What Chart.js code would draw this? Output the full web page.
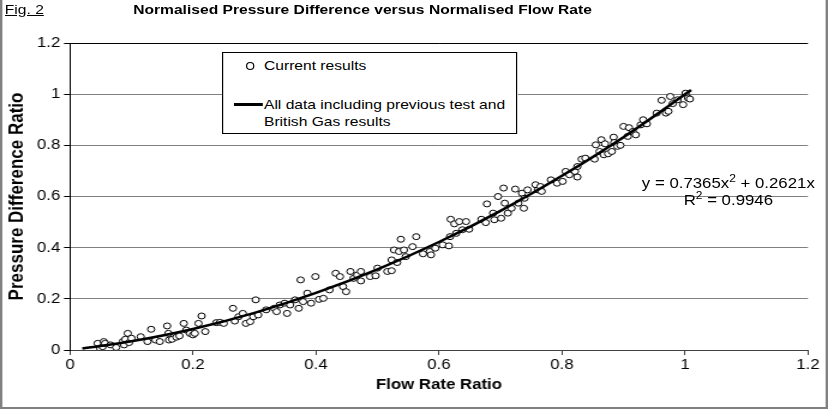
<!DOCTYPE html>
<html>
<head>
<meta charset="utf-8">
<script src="https://cdn.jsdelivr.net/npm/chart.js@4.4.1/dist/chart.umd.min.js"></script>
<style>
  body { margin: 0; background: #fff; font-family: Arial, "Liberation Sans", sans-serif; overflow: hidden; }
  /* the reference figure is stretched sideways, so the whole figure is laid out at 695px and widened by 1.2 */
  #wrap { position: relative; width: 695px; height: 410px; overflow: hidden; background: #fff;
          transform: scaleX(1.2); transform-origin: 0 0; }
  #chart { position: absolute; left: 0; top: 0; }
  #frame { position: absolute; left: 0; top: -4px; width: 690px; height: 413px; border-left: 2px solid #808080;
           border-right: 2px solid #808080; border-bottom: 2px solid #808080; box-sizing: border-box; pointer-events: none; }
  .txt { position: absolute; white-space: nowrap; color: #000; }
  #fig { left: 4px; top: 2px; font-size: 13px; text-decoration: underline; }
  #title { left: 111px; top: 2px; font-size: 13px; font-weight: bold; }
  #legend { position: absolute; left: 185px; top: 52px; width: 246px; height: 82px; border: 1px solid #000; background: #fff; box-sizing: border-box; }
  #legend .txt { font-size: 13px; line-height: 17px; }
  #mark { position: absolute; left: 19px; top: 9px; width: 5px; height: 6px; border: 1px solid #000; border-radius: 50%; }
  #swatch { position: absolute; left: 9px; top: 50px; width: 24px; height: 3px; background: #000; }
  #eqn { position: absolute; right: 16px; top: 175px; font-size: 14px; line-height: 17px; text-align: center; }
  #eqn sup { font-size: 10px; line-height: 0; }
</style>
</head>
<body>
<div id="wrap">
  <canvas id="chart" width="695" height="410"></canvas>
  <div class="txt" id="fig">Fig. 2</div>
  <div class="txt" id="title">Normalised Pressure Difference versus Normalised Flow Rate</div>
  <div id="legend">
    <div id="mark"></div>
    <div class="txt" style="left:34px; top:4px;">Current results</div>
    <div id="swatch"></div>
    <div class="txt" style="left:34px; top:43px;">All data including previous test and<br>British Gas results</div>
  </div>
  <div id="eqn">y = 0.7365x<sup>2</sup> + 0.2621x<br>R<sup>2</sup> = 0.9946</div>
  <div id="frame"></div>
</div>
<script>
// Current results
const flowRatio = [
  0.045, 0.049, 0.053, 0.055, 0.057, 0.066, 0.075, 0.086, 0.088, 0.090,
  0.094, 0.096, 0.100, 0.115, 0.126, 0.132, 0.139, 0.146, 0.158, 0.160,
  0.161, 0.166, 0.173, 0.178, 0.185, 0.189, 0.195, 0.200, 0.203, 0.209,
  0.214, 0.220, 0.238, 0.244, 0.250, 0.265, 0.268, 0.274, 0.281, 0.286,
  0.293, 0.298, 0.302, 0.306, 0.319, 0.332, 0.336, 0.341, 0.349, 0.353,
  0.358, 0.366, 0.372, 0.375, 0.379, 0.386, 0.392, 0.399, 0.405, 0.412,
  0.422, 0.432, 0.439, 0.444, 0.449, 0.456, 0.461, 0.467, 0.473, 0.473,
  0.488, 0.497, 0.500, 0.516, 0.523, 0.523, 0.527, 0.532, 0.535, 0.538,
  0.543, 0.546, 0.557, 0.563, 0.574, 0.585, 0.587, 0.594, 0.606, 0.616,
  0.618, 0.619, 0.625, 0.628, 0.633, 0.638, 0.644, 0.649, 0.669, 0.676,
  0.678, 0.688, 0.690, 0.696, 0.701, 0.705, 0.707, 0.712, 0.718, 0.724,
  0.729, 0.735, 0.738, 0.739, 0.744, 0.757, 0.761, 0.765, 0.767, 0.782,
  0.792, 0.801, 0.806, 0.812, 0.821, 0.825, 0.825, 0.832, 0.838, 0.853,
  0.855, 0.861, 0.864, 0.868, 0.870, 0.875, 0.881, 0.884, 0.885, 0.890,
  0.895, 0.900, 0.907, 0.909, 0.915, 0.920, 0.928, 0.932, 0.938, 0.954,
  0.962, 0.969, 0.973, 0.976, 0.980, 0.988, 0.997, 1.001, 1.005, 1.008
];
const pressureRatio = [
  0.026, 0.007, 0.013, 0.033, 0.026, 0.020, 0.010, 0.033, 0.020, 0.042,
  0.065, 0.029, 0.046, 0.052, 0.033, 0.081, 0.039, 0.033, 0.094, 0.065,
  0.039, 0.042, 0.050, 0.055, 0.104, 0.078, 0.065, 0.059, 0.065, 0.104,
  0.133, 0.072, 0.107, 0.108, 0.104, 0.163, 0.113, 0.130, 0.143, 0.104,
  0.111, 0.130, 0.196, 0.137, 0.157, 0.163, 0.150, 0.176, 0.183, 0.143,
  0.176, 0.196, 0.163, 0.274, 0.189, 0.222, 0.183, 0.287, 0.198, 0.202,
  0.235, 0.300, 0.287, 0.248, 0.228, 0.307, 0.280, 0.293, 0.307, 0.270,
  0.287, 0.290, 0.320, 0.307, 0.310, 0.352, 0.391, 0.342, 0.385, 0.433,
  0.391, 0.365, 0.404, 0.443, 0.376, 0.385, 0.372, 0.398, 0.411, 0.407,
  0.443, 0.511, 0.493, 0.456, 0.502, 0.470, 0.502, 0.472, 0.511, 0.498,
  0.571, 0.535, 0.509, 0.600, 0.515, 0.633, 0.574, 0.535, 0.554, 0.629,
  0.574, 0.613, 0.554, 0.593, 0.626, 0.646, 0.626, 0.639, 0.620, 0.665,
  0.652, 0.659, 0.698, 0.685, 0.698, 0.676, 0.717, 0.746, 0.750, 0.746,
  0.802, 0.776, 0.822, 0.763, 0.806, 0.767, 0.776, 0.832, 0.811, 0.796,
  0.800, 0.874, 0.835, 0.869, 0.854, 0.841, 0.880, 0.900, 0.884, 0.926,
  0.976, 0.926, 0.933, 0.991, 0.963, 0.978, 0.959, 1.004, 0.985, 0.981
];

// Fitted curve through all data
const fitFlow = [0.02, 0.10, 0.20, 0.30, 0.40, 0.50, 0.60, 0.70, 0.80, 0.90, 1.01];
const fitPressure = [0.006, 0.034, 0.082, 0.145, 0.223, 0.315, 0.422, 0.544, 0.681, 0.832, 1.016];

const yTickLabels = ['0', '0.2', '0.4', '0.6', '0.8', '1', '1.2'];
const xTickLabels = ['0', '0.2', '0.4', '0.6', '0.8', '1', '1.2'];

const FONT = "Arial, 'Liberation Sans', sans-serif";

const scatterPoints = flowRatio.map((x, i) => ({ x: x, y: pressureRatio[i] }));
const fitPoints = fitFlow.map((x, i) => ({ x: x, y: fitPressure[i] }));

new Chart(document.getElementById('chart').getContext('2d'), {
    type: 'scatter',
    data: {
        datasets: [
            {
                label: 'All data including previous test and British Gas results',
                data: fitPoints,
                showLine: true,
                borderColor: '#000',
                borderWidth: 2.5,
                pointRadius: 0,
                cubicInterpolationMode: 'monotone',
                order: 0
            },
            {
                label: 'Current results',
                data: scatterPoints,
                pointRadius: 3,
                pointBorderWidth: 1,
                pointBorderColor: '#000',
                pointBackgroundColor: '#fff',
                order: 1
            }
        ]
    },
    options: {
        responsive: false,
        animation: false,
        layout: { padding: { top: 43, right: 21.7, left: 0, bottom: 0 } },
        plugins: { legend: { display: false }, tooltip: { enabled: false } },
        scales: {
            x: {
                type: 'linear', min: 0, max: 1.2,
                afterFit: (s) => { s.height = 60; },
                border: { color: '#404040', width: 1 },
                grid: { drawOnChartArea: false, drawTicks: true, tickLength: 5, tickColor: '#404040' },
                ticks: {
                    stepSize: 0.2, padding: 2, color: '#000', maxRotation: 0,
                    font: { family: FONT, size: 14 },
                    callback: (v) => xTickLabels[Math.round(v / 0.2)]
                },
                title: {
                    display: true, text: 'Flow Rate Ratio', color: '#000',
                    font: { family: FONT, size: 14, weight: 'bold' },
                    padding: { top: 0, bottom: 16 }
                }
            },
            y: {
                type: 'linear', min: 0, max: 1.2,
                afterFit: (s) => { s.width = 58.3; },
                border: { color: '#000', width: 1 },
                grid: {
                    color: (c) => (c.tick && Math.abs(c.tick.value - 1.2) < 1e-6) ? '#000' : '#808080',
                    tickColor: '#000', tickLength: 5, lineWidth: 1
                },
                ticks: {
                    stepSize: 0.2, padding: 3, color: '#000',
                    font: { family: FONT, size: 14 },
                    callback: (v) => yTickLabels[Math.round(v / 0.2)]
                },
                title: {
                    display: true, text: 'Pressure Difference Ratio', color: '#000',
                    font: { family: FONT, size: 17, weight: 'bold' },
                    padding: { top: 4, bottom: 0 }
                }
            }
        }
    }
});
</script>
</body>
</html>
